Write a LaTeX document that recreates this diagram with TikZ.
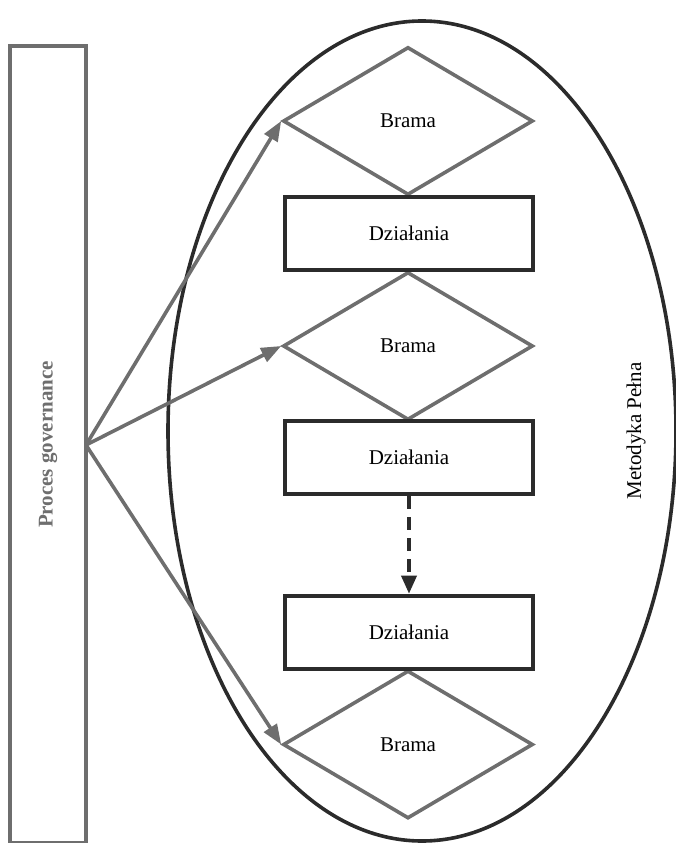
\documentclass[tikz,border=0pt]{standalone}
\usepackage{fontspec}
\setmainfont{Liberation Serif}
\usetikzlibrary{shapes.geometric,arrows.meta}
\definecolor{lgray}{HTML}{6E6E6E}
\definecolor{dgray}{HTML}{2B2B2B}

\begin{document}
\begin{tikzpicture}[x=1pt,y=-1pt,font=\fontsize{21}{25}\selectfont,
  brama/.style={diamond,draw=lgray,line width=3.6pt,minimum width=250pt,minimum height=148pt,inner sep=0pt},
  dzial/.style={rectangle,draw=dgray,line width=4.6pt,minimum width=248pt,minimum height=73pt,inner sep=0pt},
  strz/.style={draw=lgray,line width=3.6pt,-{Triangle[length=20pt,width=15pt]}}]
  \useasboundingbox (0,0) rectangle (676,843);
  \node[ellipse,draw=dgray,line width=3.6pt,minimum width=508pt,minimum height=820pt,inner sep=0pt] (metodyka) at (422,431) {};
  \node[rotate=90] (metlabel) at (636,431) {Metodyka Pełna};
  \node[rectangle,draw=lgray,line width=4.6pt,minimum width=797pt,minimum height=76pt,inner sep=0pt,rotate=90,text=lgray,font=\fontsize{21}{25}\selectfont\bfseries] (proces) at (48,444.5) {Proces governance};
  \coordinate (fan) at (86,445);
  \node[brama] (b1) at (408,121) {Brama};
  \node[brama] (b2) at (408,346) {Brama};
  \node[brama] (b3) at (408,744.5) {Brama};
  \node[dzial] (d1) at (409,233.5) {Działania};
  \node[dzial] (d2) at (409,457.5) {Działania};
  \node[dzial] (d3) at (409,632.5) {Działania};
  \draw[strz] (fan) -- (b1.west);
  \draw[strz] (fan) -- (b2.west);
  \draw[strz] (fan) -- (b3.west);
  \draw[dgray,line width=3.6pt,dash pattern=on 13pt off 8pt,-{Triangle[length=18pt,width=15pt]}] (d2.south) -- (d3.north);
\end{tikzpicture}
\end{document}
